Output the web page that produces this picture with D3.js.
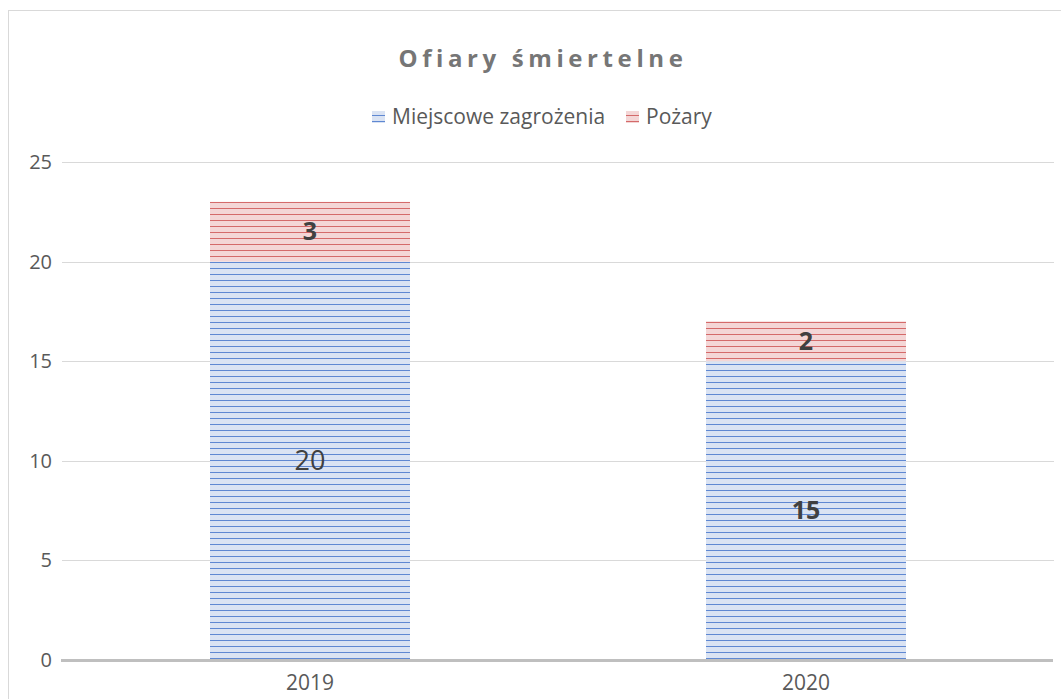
<!DOCTYPE html>
<html>
<head>
<meta charset="utf-8">
<script src="https://cdn.jsdelivr.net/npm/d3@7"></script>
<style>
body { margin:0; background:#fff; }
text { font-family: "Open Sans", "Noto Sans", sans-serif; }
</style>
</head>
<body>
<svg id="chart" width="1061" height="699"></svg>
<script>
// data
var years = ["2019", "2020"];
var miejscowe = [20, 15];
var pozary = [3, 2];
var labelBold = [[false, true], [true, true]]; // [miejscowe, pozary] per year
var yTicks = [0, 5, 10, 15, 20, 25];

var svg = d3.select("#chart");

// frame
svg.append("rect").attr("x", 8.5).attr("y", 10.5).attr("width", 1070).attr("height", 700)
	.style("fill", "#fff").style("stroke", "#d9d9d9").style("stroke-width", 1);

// patterns
var defs = svg.append("defs");
function stripes(id, bg, line){
	var p = defs.append("pattern").attr("id", id).attr("patternUnits", "userSpaceOnUse")
		.attr("width", 6).attr("height", 6).attr("y", 660);
	p.append("rect").attr("width", 6).attr("height", 6).style("fill", bg);
	p.append("rect").attr("y", 4).attr("width", 6).attr("height", 1).style("fill", line);
}
stripes("pBlue", "#dae3f3", "#5f88d2");
stripes("pRed", "#f4d6d6", "#d46a6a");

var x = d3.scaleBand().domain(years).range([62, 1054]);
var y = d3.scaleLinear().domain([0, 25]).range([660, 162]);
var barW = 200;

// grid
svg.append("g").selectAll("line").data(yTicks.slice(1)).enter().append("line")
	.attr("x1", 62).attr("x2", 1054)
	.attr("y1", function(d){return Math.round(y(d)) + 0.5})
	.attr("y2", function(d){return Math.round(y(d)) + 0.5})
	.style("stroke", "#d9d9d9").style("stroke-width", 1);

svg.append("g").selectAll("text").data(yTicks).enter().append("text")
	.attr("x", 52).attr("y", function(d){return y(d)})
	.attr("dy", "0.35em").attr("text-anchor", "end")
	.style("font-size", "20px").style("fill", "#595959")
	.text(function(d){return d});

// bars
var stack = years.map(function(yr, i){
	return [
		{key:"m", y0:0, y1:miejscowe[i], v:miejscowe[i], bold:labelBold[i][0], yr:yr},
		{key:"p", y0:miejscowe[i], y1:miejscowe[i]+pozary[i], v:pozary[i], bold:labelBold[i][1], yr:yr}
	];
});
var segs = [].concat.apply([], stack);

svg.append("g").selectAll("rect").data(segs).enter().append("rect")
	.attr("x", function(d){return x(d.yr) + x.bandwidth()/2 - barW/2})
	.attr("width", barW)
	.attr("y", function(d){return y(d.y1)})
	.attr("height", function(d){return y(d.y0) - y(d.y1)})
	.style("fill", function(d){return d.key=="m" ? "url(#pBlue)" : "url(#pRed)"});

svg.append("g").selectAll("text").data(segs).enter().append("text")
	.attr("x", function(d){return x(d.yr) + x.bandwidth()/2})
	.attr("y", function(d){return y((d.y0+d.y1)/2)})
	.attr("dy", "0.35em").attr("text-anchor", "middle")
	.style("font-size", function(d){return d.bold ? "25px" : "27px"})
	.style("font-weight", function(d){return d.bold ? "bold" : "normal"})
	.style("fill", "#404040")
	.text(function(d){return d.v});

// x axis
svg.append("line").attr("x1", 61).attr("x2", 1053).attr("y1", 660.5).attr("y2", 660.5)
	.style("stroke", "#bfbfbf").style("stroke-width", 3);

svg.append("g").selectAll("text").data(years).enter().append("text")
	.attr("x", function(d){return x(d) + x.bandwidth()/2})
	.attr("y", 683).attr("dy", "0.35em").attr("text-anchor", "middle")
	.style("font-size", "21px").style("fill", "#595959")
	.text(function(d){return d});

// title
svg.append("text").attr("x", 543).attr("y", 67).attr("text-anchor", "middle")
	.style("font-size", "24px").style("font-weight", "bold").style("fill", "#767676")
	.style("letter-spacing", "4.6px")
	.text("Ofiary śmiertelne");

// legend
var legend = [
	{name:"Miejscowe zagrożenia", fill:"url(#pBlue)", x:372},
	{name:"Pożary", fill:"url(#pRed)", x:626}
];
var lg = svg.append("g").selectAll("g").data(legend).enter().append("g")
	.attr("transform", function(d){return "translate("+d.x+",117)"});
lg.append("rect").attr("x", 0).attr("y", -6).attr("width", 13).attr("height", 12)
	.style("fill", function(d){return d.fill});
lg.append("text").attr("x", 20).attr("dy", "0.35em")
	.style("font-size", "21px").style("fill", "#595959")
	.text(function(d){return d.name});
</script>
</body>
</html>
